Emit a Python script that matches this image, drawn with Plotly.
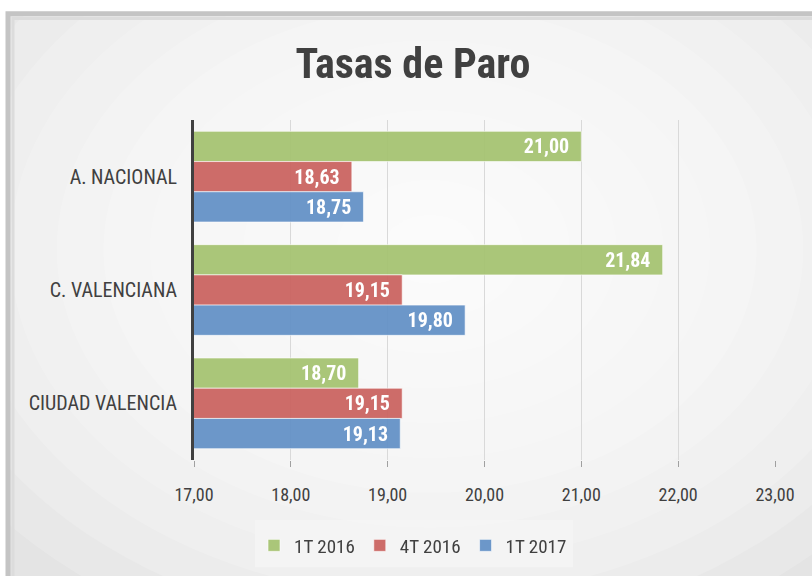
import plotly.graph_objects as go

categories = ["A. NACIONAL", "C. VALENCIANA", "CIUDAD VALENCIA"]
series_names = ["1T 2016", "4T 2016", "1T 2017"]
v_1t2016 = [21.00, 21.84, 18.70]
v_4t2016 = [18.63, 19.15, 19.15]
v_1t2017 = [18.75, 19.80, 19.13]
tick_vals = [17, 18, 19, 20, 21, 22, 23]

colors = ["#a6c372", "#cb6561", "#6592c7"]
FONT = "Liberation Sans Narrow, Roboto Condensed, Open Sans, sans-serif"

W, H = 812, 576
L, R, T, B = 194, 37, 120, 114
pw, ph = W - L - R, H - T - B


def px(x):
    return (x - L) / pw


def py(y):
    return (H - B - y) / ph


fig = go.Figure()
for name, vals, col in zip(series_names, [v_1t2016, v_4t2016, v_1t2017], colors):
    fig.add_trace(go.Bar(
        y=categories, x=vals, name=name, orientation="h",
        marker=dict(color=col, line=dict(color="rgba(255,255,255,0.6)", width=1)),
        opacity=0.95,
        texttemplate="%{x:.2f}\u00a0\u00a0", textposition="inside", insidetextanchor="end",
        textfont=dict(color="white", size=20, family=FONT, weight="bold"),
        hoverinfo="skip",
    ))

shapes = []
shapes.append(dict(type="rect", xref="paper", yref="paper", layer="below",
                   x0=px(8), x1=px(830), y0=py(14), y1=py(590),
                   fillcolor="#e4e4e4", line=dict(width=0)))
n = 12
for i in range(n):
    f = 1 - i / n
    rx, ry = 560 * f, 420 * f
    cx, cy = 430, 250
    shapes.append(dict(type="circle", xref="paper", yref="paper", layer="below",
                       x0=px(cx - rx), x1=px(cx + rx), y0=py(cy + ry), y1=py(cy - ry),
                       fillcolor="rgba(255,255,255,0.17)", line=dict(width=0)))
shapes.append(dict(type="rect", xref="paper", yref="paper", layer="below",
                   x0=px(-50), x1=px(900), y0=py(0), y1=py(9),
                   fillcolor="white", line=dict(width=0)))
shapes.append(dict(type="rect", xref="paper", yref="paper", layer="below",
                   x0=px(-50), x1=px(4), y0=py(0), y1=py(700),
                   fillcolor="white", line=dict(width=0)))
shapes.append(dict(type="rect", xref="paper", yref="paper", layer="below",
                   x0=px(8), x1=px(840), y0=py(13), y1=py(600),
                   fillcolor="rgba(0,0,0,0)", line=dict(color="#c4c4c4", width=5)))
shapes.append(dict(type="rect", xref="paper", yref="paper", layer="below",
                   x0=px(13), x1=px(835), y0=py(18), y1=py(595),
                   fillcolor="rgba(0,0,0,0)", line=dict(color="#dcdcdc", width=3)))
shapes.append(dict(type="rect", xref="paper", yref="paper", layer="below",
                   x0=px(255), x1=px(573), y0=py(522), y1=py(570),
                   fillcolor="rgba(245,245,245,0.8)", line=dict(width=0)))

fig.update_layout(
    width=W, height=H,
    margin=dict(l=L, r=R, t=T, b=B, pad=0),
    paper_bgcolor="white", plot_bgcolor="rgba(0,0,0,0)",
    separators=",.",
    barmode="group", bargap=0.2, bargroupgap=0,
    title=dict(text="<b>Tasas de Paro</b>", x=413 / W, xanchor="center",
               y=1 - 63 / H, yanchor="middle",
               font=dict(family=FONT, size=42, color="#404040")),
    font=dict(family=FONT, color="#404040"),
    xaxis=dict(range=[17, 23], tickvals=tick_vals, tickformat=".2f",
               showgrid=True, gridcolor="#d9d9d9", gridwidth=1,
               zeroline=False, showline=False, automargin=False,
               ticks="outside", ticklen=6, tickcolor="#a0a0a0",
               ticklabelstandoff=12,
               tickfont=dict(size=18, color="#404040", family=FONT),
               fixedrange=True),
    yaxis=dict(autorange="reversed", showline=True, linecolor="#404040", linewidth=3,
               ticks="", ticklabelstandoff=10, automargin=False,
               tickfont=dict(size=20, color="#404040", family=FONT),
               fixedrange=True),
    legend=dict(orientation="h", x=px(413), xanchor="center", y=py(548), yanchor="middle",
                font=dict(size=19, color="#404040", family=FONT),
                bgcolor="rgba(0,0,0,0)", traceorder="normal", itemwidth=30),
    shapes=shapes,
    showlegend=True,
)

fig.write_html("out.html", config={"displayModeBar": False},
               post_script="document.body.style.margin='0';document.body.style.overflow='hidden';")
